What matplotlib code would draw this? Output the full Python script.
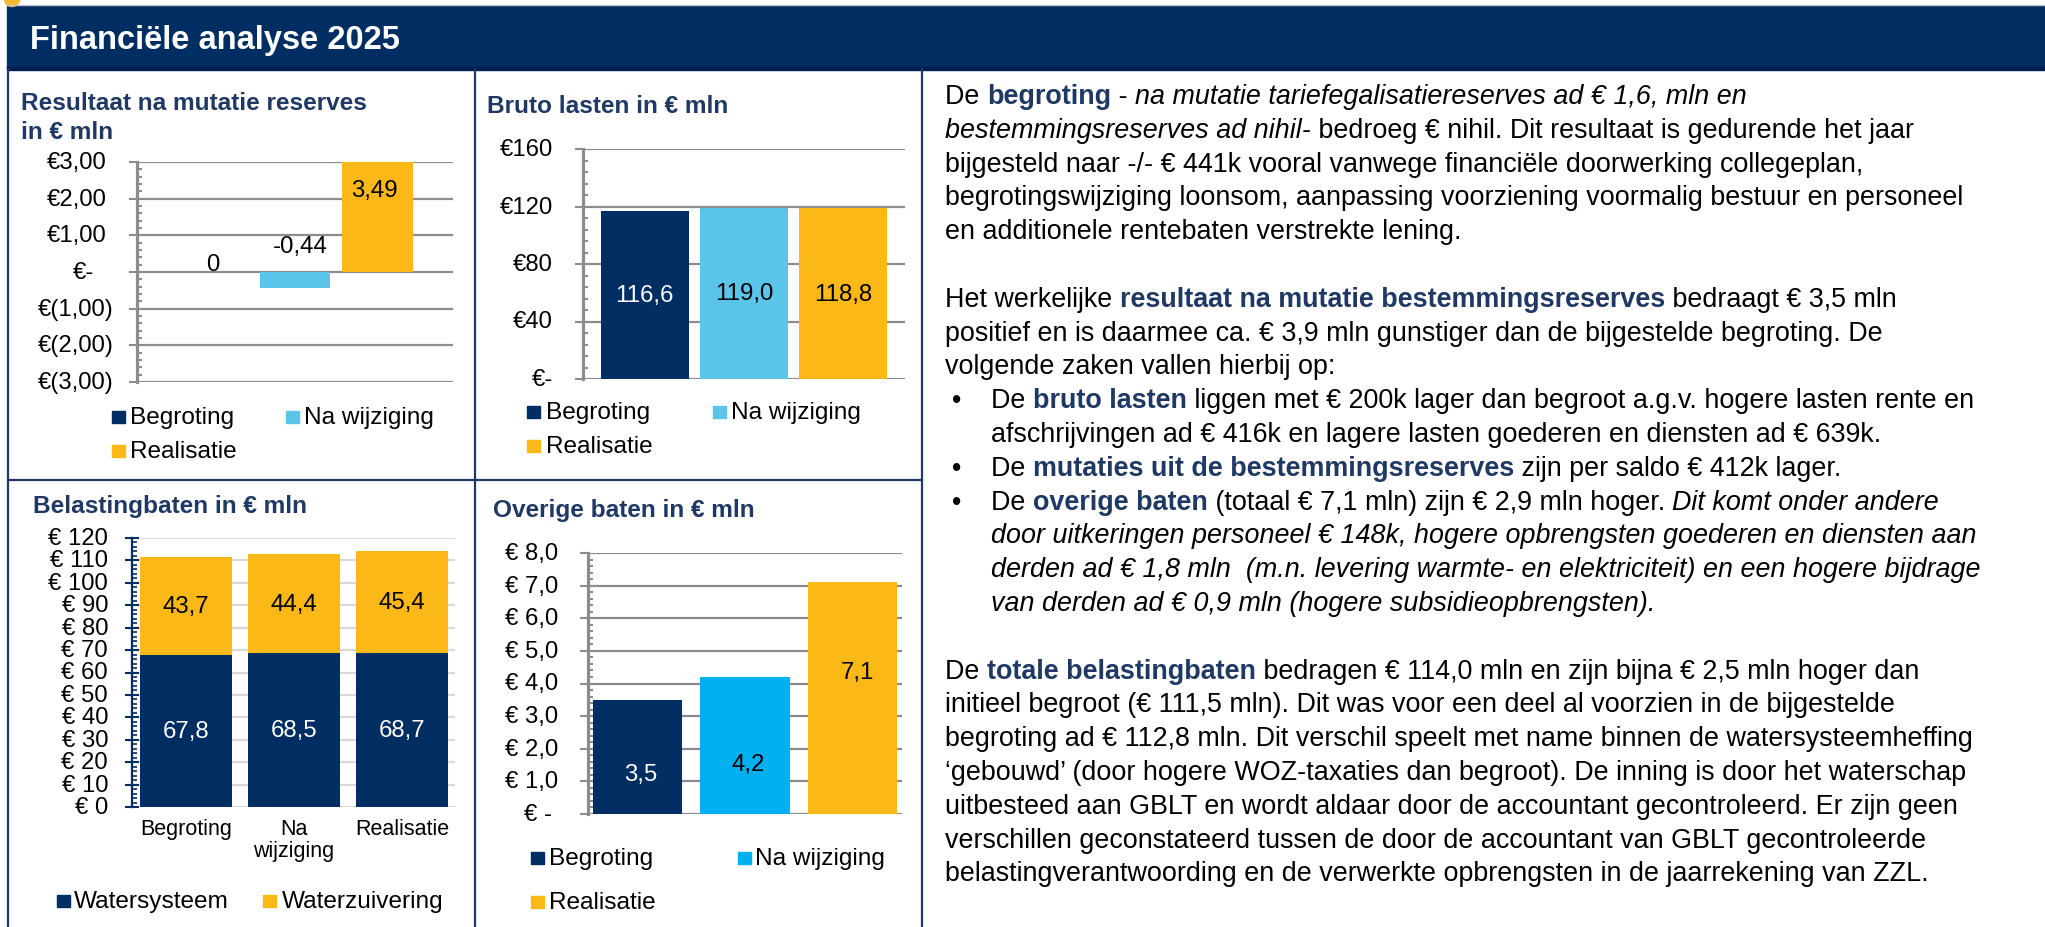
import matplotlib
matplotlib.use('Agg')
import matplotlib.pyplot as plt
from matplotlib.patches import Rectangle, Ellipse
from matplotlib.lines import Line2D
from matplotlib.font_manager import FontProperties
from matplotlib.ticker import MultipleLocator
import numpy as np

plt.rcParams['font.family'] = ['Liberation Sans', 'DejaVu Sans']

# ---------------- data ----------------
series = ['Begroting', 'Na wijziging', 'Realisatie']

resultaat = [0.0, -0.44, 3.49]
resultaat_labels = ['0', '-0,44', '3,49']
res_ticks = [3, 2, 1, 0, -1, -2, -3]
res_ticklabels = ['€3,00', '€2,00', '€1,00', '€-', '€(1,00)', '€(2,00)', '€(3,00)']

bruto = [116.6, 119.0, 118.8]
bruto_labels = ['116,6', '119,0', '118,8']
bruto_ticks = [0, 40, 80, 120, 160]
bruto_ticklabels = ['€-', '€40', '€80', '€120', '€160']

bel_categories = ['Begroting', 'Na\nwijziging', 'Realisatie']
bel_series = ['Watersysteem', 'Waterzuivering']
watersysteem = [67.8, 68.5, 68.7]
waterzuivering = [43.7, 44.4, 45.4]
watersysteem_labels = ['67,8', '68,5', '68,7']
waterzuivering_labels = ['43,7', '44,4', '45,4']
bel_ticks = [0, 10, 20, 30, 40, 50, 60, 70, 80, 90, 100, 110, 120]
bel_ticklabels = ['€ 0', '€ 10', '€ 20', '€ 30', '€ 40', '€ 50', '€ 60',
                  '€ 70', '€ 80', '€ 90', '€ 100', '€ 110', '€ 120']

overige = [3.5, 4.2, 7.1]
overige_labels = ['3,5', '4,2', '7,1']
ov_ticks = [0, 1, 2, 3, 4, 5, 6, 7, 8]
ov_ticklabels = ['€ -', '€ 1,0', '€ 2,0', '€ 3,0', '€ 4,0', '€ 5,0', '€ 6,0', '€ 7,0', '€ 8,0']

header_title = 'Financiële analyse 2025'
chart_titles = ['Resultaat na mutatie reserves\nin € mln', 'Bruto lasten in € mln',
                'Belastingbaten in € mln', 'Overige baten in € mln']

# text panel: lines of (text, style); style r=regular, b=bold blue, i=italic; None = blank line
text_lines = [
    ('p', [('De ', 'r'), ('begroting', 'b'), (' - ', 'r'), ('na mutatie tariefegalisatiereserves ad € 1,6, mln en', 'i')]),
    ('p', [('bestemmingsreserves ad nihil-', 'i'), (' bedroeg € nihil. Dit resultaat is gedurende het jaar', 'r')]),
    ('p', [('bijgesteld naar -/- € 441k vooral vanwege financiële doorwerking collegeplan,', 'r')]),
    ('p', [('begrotingswijziging loonsom, aanpassing voorziening voormalig bestuur en personeel', 'r')]),
    ('p', [('en additionele rentebaten verstrekte lening.', 'r')]),
    None,
    ('p', [('Het werkelijke ', 'r'), ('resultaat na mutatie bestemmingsreserves', 'b'), (' bedraagt € 3,5 mln', 'r')]),
    ('p', [('positief en is daarmee ca. € 3,9 mln gunstiger dan de bijgestelde begroting. De', 'r')]),
    ('p', [('volgende zaken vallen hierbij op:', 'r')]),
    ('bullet', [('De ', 'r'), ('bruto lasten', 'b'), (' liggen met € 200k lager dan begroot a.g.v. hogere lasten rente en', 'r')]),
    ('indent', [('afschrijvingen ad € 416k en lagere lasten goederen en diensten ad € 639k.', 'r')]),
    ('bullet', [('De ', 'r'), ('mutaties uit de bestemmingsreserves', 'b'), (' zijn per saldo € 412k lager.', 'r')]),
    ('bullet', [('De ', 'r'), ('overige baten', 'b'), (' (totaal € 7,1 mln) zijn € 2,9 mln hoger. ', 'r'), ('Dit komt onder andere', 'i')]),
    ('indent', [('door uitkeringen personeel € 148k, hogere opbrengsten goederen en diensten aan', 'i')]),
    ('indent', [('derden ad € 1,8 mln  (m.n. levering warmte- en elektriciteit) en een hogere bijdrage', 'i')]),
    ('indent', [('van derden ad € 0,9 mln (hogere subsidieopbrengsten).', 'i')]),
    None,
    ('p', [('De ', 'r'), ('totale belastingbaten', 'b'), (' bedragen € 114,0 mln en zijn bijna € 2,5 mln hoger dan', 'r')]),
    ('p', [('initieel begroot (€ 111,5 mln). Dit was voor een deel al voorzien in de bijgestelde', 'r')]),
    ('p', [('begroting ad € 112,8 mln. Dit verschil speelt met name binnen de watersysteemheffing', 'r')]),
    ('p', [('‘gebouwd’ (door hogere WOZ-taxaties dan begroot). De inning is door het waterschap', 'r')]),
    ('p', [('uitbesteed aan GBLT en wordt aldaar door de accountant gecontroleerd. Er zijn geen', 'r')]),
    ('p', [('verschillen geconstateerd tussen de door de accountant van GBLT gecontroleerde', 'r')]),
    ('p', [('belastingverantwoording en de verwerkte opbrengsten in de jaarrekening van ZZL.', 'r')]),
]

# ---------------- styles ----------------
W, H, DPI = 2045, 928, 100
NAVY = '#002D62'
TITLE_BLUE = '#1F3864'
LIGHTBLUE = '#5BC5E9'
CYAN = '#00B0F0'
YELLOW = '#FCB817'
GRID = '#8C8C8C'
GRID_LIGHT = '#D9D9D9'
colors_12 = [NAVY, LIGHTBLUE, YELLOW]
colors_4 = [NAVY, CYAN, YELLOW]
TICK_FS = 17.2
LEG_FS = 17.6
TITLE_FS = 17.6
DATA_FS = 17.3
TEXT_FS = 19.4

fig = plt.figure(figsize=(W / DPI, H / DPI), dpi=DPI)
fig.patch.set_facecolor('white')


def fx(x):
    return x / W


def fy(y):
    return 1 - y / H


def px_axes(l, t, r, b):
    return fig.add_axes([l / W, 1 - b / H, (r - l) / W, (b - t) / H])


def ylabels(ax, ticks, labels, rights, box):
    l, r = box
    trans = ax.get_yaxis_transform()
    for v, lab, rp in zip(ticks, labels, rights):
        ax.text((rp - l) / (r - l), v, lab, transform=trans, ha='right', va='center',
                fontsize=TICK_FS, color='black', clip_on=False)


def legend(items, colors, positions):
    for name, col, (sx, cy, tx) in zip(items, colors, positions):
        s = 12.5
        fig.patches.append(Rectangle((fx(sx), fy(cy + s / 2)), s / W, s / H,
                                     transform=fig.transFigure, color=col))
        fig.text(fx(tx), fy(cy), name, fontsize=LEG_FS, va='center', ha='left', color='black')


def style_gray_axis(ax, minor):
    for s in ['top', 'right', 'bottom']:
        ax.spines[s].set_visible(False)
    ax.spines['left'].set_color(GRID)
    ax.spines['left'].set_linewidth(2.3)
    ax.yaxis.set_minor_locator(MultipleLocator(minor))
    ax.tick_params(axis='y', which='major', direction='out', length=6, width=1.5, color=GRID,
                   labelleft=False)
    ax.tick_params(axis='y', which='minor', direction='in', length=3.8, width=1.5, color=GRID)
    ax.set_xticks([])
    ax.yaxis.grid(True, which='major', color=GRID, lw=1.6)
    ax.set_axisbelow(True)
    ax.patch.set_alpha(0)


# ---------------- header & frame ----------------
fig.patches.append(Rectangle((fx(7), fy(70)), (W - 7) / W, 63 / H, transform=fig.transFigure,
                             color=NAVY, zorder=0))
fig.patches.append(Rectangle((fx(7), fy(71)), (W - 7) / W, 3 / H, transform=fig.transFigure,
                             color='#001E52', zorder=0))
fig.add_artist(Line2D([fx(7), 1], [fy(6), fy(6)], color='#C8C8C8', lw=1))
fig.add_artist(Ellipse((fx(12), fy(0)), 15 / W, 15 / H, transform=fig.transFigure, color='#F5B82E'))
fig.text(fx(30), fy(40), header_title, color='white', fontsize=23.5, weight='bold', va='center')

frame_kw = dict(color=TITLE_BLUE, lw=1.6)
fig.add_artist(Line2D([fx(8), fx(8)], [fy(70), 0], **frame_kw))
fig.add_artist(Line2D([fx(475), fx(475)], [fy(70), 0], **frame_kw))
fig.add_artist(Line2D([fx(922), fx(922)], [fy(70), 0], **frame_kw))
fig.add_artist(Line2D([fx(8), fx(922)], [fy(481), fy(481)], **frame_kw))

# chart titles
fig.text(fx(21), fy(110), chart_titles[0].split('\n')[0], fontsize=TITLE_FS, weight='bold',
         color=TITLE_BLUE, va='baseline')
fig.text(fx(21), fy(139), chart_titles[0].split('\n')[1], fontsize=TITLE_FS, weight='bold',
         color=TITLE_BLUE, va='baseline')
fig.text(fx(487), fy(113), chart_titles[1], fontsize=TITLE_FS, weight='bold', color=TITLE_BLUE,
         va='baseline')
fig.text(fx(33), fy(513), chart_titles[2], fontsize=TITLE_FS, weight='bold', color=TITLE_BLUE,
         va='baseline')
fig.text(fx(493), fy(517), chart_titles[3], fontsize=TITLE_FS, weight='bold', color=TITLE_BLUE,
         va='baseline')

# ---------------- chart 1: resultaat ----------------
box1 = (137, 163, 453, 383)
ax1 = px_axes(*box1)
x1 = np.arange(len(series)) - 1
ax1.bar(x1, resultaat, width=0.86, color=colors_12)
ax1.set_xlim(-1.915, 1.915)
ax1.set_ylim(-3, 3)
ax1.set_yticks(res_ticks)
style_gray_axis(ax1, 0.2)
res_rights = [107 if v > 0 else (94 if v == 0 else 114) for v in res_ticks]
ylabels(ax1, res_ticks, res_ticklabels, res_rights, (box1[0], box1[2]))
res_offsets = [(0, 8), (5, 26), (-3, -28)]
ylo, yhi = ax1.get_ylim()
for xi, v, lab, (dx, dy) in zip(x1, resultaat, resultaat_labels, res_offsets):
    anchor = min(v, yhi) if v > 0 else 0
    ax1.annotate(lab, (xi, anchor), xytext=(dx * 72 / DPI, dy * 72 / DPI), textcoords='offset points',
                 ha='center', va='center', fontsize=DATA_FS, color='black')
legend(series, colors_12, [(112, 418, 130), (286, 418, 304), (112, 452, 130)])

# ---------------- chart 2: bruto lasten ----------------
box2 = (583, 150, 905, 380)
ax2 = px_axes(*box2)
x2 = np.arange(len(series)) - 1
ax2.bar(x2, bruto, width=0.885, color=colors_12)
ax2.set_xlim(-1.62, 1.62)
ax2.set_ylim(0, 160)
ax2.set_yticks(bruto_ticks)
style_gray_axis(ax2, 8)
ylabels(ax2, bruto_ticks, bruto_ticklabels, [553] * len(bruto_ticks), (box2[0], box2[2]))
for xi, v, lab, tc in zip(x2, bruto, bruto_labels, ['white', 'black', 'black']):
    ax2.text(xi, v / 2, lab, ha='center', va='center', fontsize=DATA_FS, color=tc)
legend(series, colors_12, [(527, 413, 546), (713, 413, 731), (527, 447, 546)])

# ---------------- chart 3: belastingbaten ----------------
box3 = (132, 539, 455, 808)
ax3 = px_axes(*box3)
x3 = np.arange(len(bel_categories))
ax3.bar(x3, watersysteem, width=0.85, color=NAVY)
ax3.bar(x3, waterzuivering, bottom=watersysteem, width=0.85, color=YELLOW)
ax3.set_xlim(-0.5, 2.49)
ax3.set_ylim(0, 120)
ax3.set_yticks(bel_ticks)
for s in ['top', 'right', 'bottom']:
    ax3.spines[s].set_visible(False)
ax3.spines['left'].set_color(NAVY)
ax3.spines['left'].set_linewidth(1.6)
ax3.yaxis.set_minor_locator(MultipleLocator(2))
ax3.tick_params(axis='y', which='major', direction='inout', length=10.5, width=1.5, color=NAVY,
                labelleft=False)
ax3.tick_params(axis='y', which='minor', direction='in', length=3.8, width=1.2, color=NAVY)
ax3.yaxis.grid(True, which='major', color=GRID_LIGHT, lw=1.6)
ax3.set_axisbelow(True)
ax3.set_xticks(x3)
ax3.set_xticklabels(bel_categories, fontsize=15.5, linespacing=1.05)
ax3.tick_params(axis='x', length=0, pad=8)
ylabels(ax3, bel_ticks, bel_ticklabels, [108] * len(bel_ticks), (box3[0], box3[2]))
for xi, a, b, la, lb in zip(x3, watersysteem, waterzuivering, watersysteem_labels, waterzuivering_labels):
    ax3.text(xi, a / 2, la, ha='center', va='center', fontsize=DATA_FS, color='white')
    ax3.text(xi, a + b / 2, lb, ha='center', va='center', fontsize=DATA_FS, color='black')
legend(bel_series, [NAVY, YELLOW], [(57, 902, 74), (263, 902, 282)])

# ---------------- chart 4: overige baten ----------------
box4 = (588, 554, 902, 815)
ax4 = px_axes(*box4)
x4 = np.arange(len(series)) - 1
ax4.bar(x4, overige, width=0.83, color=colors_4)
ax4.set_xlim(-1.46, 1.46)
ax4.set_ylim(0, 8)
ax4.set_yticks(ov_ticks)
style_gray_axis(ax4, 0.2)
ylabels(ax4, ov_ticks, ov_ticklabels, [552] + [558] * (len(ov_ticks) - 1), (box4[0], box4[2]))
ov_offsets = [(3, 17), (3, 19), (5, -26)]
for xi, v, lab, tc, (dx, dy) in zip(x4, overige, overige_labels, ['white', 'black', 'black'], ov_offsets):
    ax4.annotate(lab, (xi, v / 2), xytext=(dx * 72 / DPI, -dy * 72 / DPI), textcoords='offset points',
                 ha='center', va='center', fontsize=DATA_FS, color=tc)
legend(series, colors_4, [(531, 859, 549), (738, 859, 755), (531, 903, 549)])

# ---------------- text panel ----------------
renderer = fig.canvas.get_renderer()
styles = {
    'r': dict(color='black', weight='normal', style='normal'),
    'b': dict(color=TITLE_BLUE, weight='bold', style='normal'),
    'i': dict(color='black', weight='normal', style='italic'),
}


def advance(txt, st):
    fp = FontProperties(family=['Liberation Sans'], size=TEXT_FS, weight=styles[st]['weight'],
                        style=styles[st]['style'])
    w1 = renderer.get_text_width_height_descent(txt + '|', fp, ismath=False)[0]
    w0 = renderer.get_text_width_height_descent('|', fp, ismath=False)[0]
    return w1 - w0


TEXT_X, BULLET_X, INDENT_X = 945, 952, 991
y0, dy_line = 97, 33.8
for i, entry in enumerate(text_lines):
    if entry is None:
        continue
    kind, segs = entry
    yb = y0 + i * dy_line + 7
    if kind == 'p':
        x = TEXT_X
    else:
        x = INDENT_X
    if kind == 'bullet':
        fig.text(fx(BULLET_X), fy(yb), '•', fontsize=TEXT_FS, va='baseline', color='black')
    for txt, st in segs:
        fig.text(fx(x), fy(yb), txt, fontsize=TEXT_FS, va='baseline', ha='left', **styles[st])
        x += advance(txt, st)

fig.savefig('out.png', dpi=DPI)
